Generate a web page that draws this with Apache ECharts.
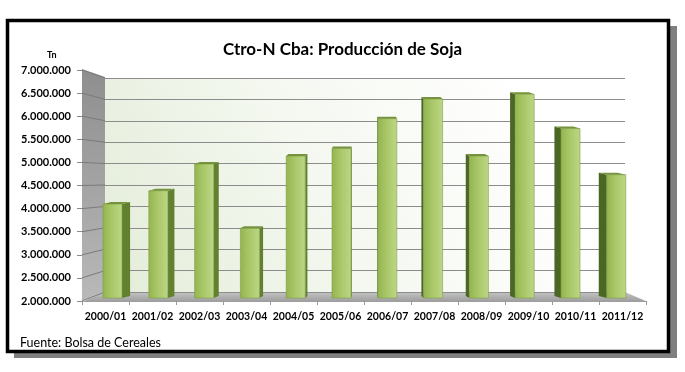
<!DOCTYPE html>
<html><head><meta charset="utf-8">
<script src="https://cdn.jsdelivr.net/npm/echarts@6/dist/echarts.min.js"></script>
<style>html,body{margin:0;padding:0;background:#fff}#c{width:685px;height:372px}</style>
</head><body><div id="c"></div>
<script>
// ---- data ----
var categories = ['2000/01','2001/02','2002/03','2003/04','2004/05','2005/06','2006/07','2007/08','2008/09','2009/10','2010/11','2011/12'];
var produccion = [4110000, 4410000, 5010000, 3570000, 5190000, 5360000, 6030000, 6470000, 5190000, 6580000, 5810000, 4770000];
var yTicks = [2000000, 2500000, 3000000, 3500000, 4000000, 4500000, 5000000, 5500000, 6000000, 6500000, 7000000];
var titleText = 'Ctro-N Cba: Producción de Soja';
var unitText = 'Tn';
var sourceText = 'Fuente: Bolsa de Cereales';

// ---- layout ----
var Y_MIN = 2000000, Y_MAX = 7000000, Y_INT = 500000;
var FRONT = {left: 82, top: 70, width: 564, height: 231};
var BARS = {left: 89.6, top: 75.5, width: 549.6, height: 222.5};
var BACK = {left: 105, top: 78, width: 520, height: 214};
var VANISH_X = 365;
var FONT = 'Lato, "Liberation Sans", sans-serif';

function fmt(v){ return String(v).replace(/\B(?=(\d{3})+(?!\d))/g, '.'); }

var chart = echarts.init(document.getElementById('c'), null, {renderer: 'canvas'});

var frontGreen = new echarts.graphic.LinearGradient(0, 0, 1, 0, [
  {offset: 0, color: '#93b450'}, {offset: 0.45, color: '#a9c767'}, {offset: 1, color: '#bcd787'}]);

var option = {
  animation: false,
  backgroundColor: '#ffffff',
  title: [
    {text: titleText, left: 'center', top: 36, textStyle: {fontFamily: FONT, fontWeight: 'bold', fontSize: 17, color: '#000'}},
    {text: unitText, left: 42, top: 46, textStyle: {fontFamily: FONT, fontWeight: 'bold', fontSize: 9, color: '#000'}},
    {text: sourceText, left: 15, top: 331, textStyle: {fontFamily: FONT, fontWeight: 'normal', fontSize: 12.5, color: '#000'}}
  ],
  graphic: [
    {type: 'rect', z: -20, shape: {x: 14, y: 26, width: 663, height: 332}, style: {fill: '#7f7f7f'}},
    {type: 'rect', z: -19, shape: {x: 7.5, y: 20.5, width: 661, height: 331}, style: {fill: '#ffffff', stroke: '#000000', lineWidth: 3.5}},
    {type: 'polygon', z: -18, shape: {points: [[82, 69], [105, 77], [105, 292], [82, 301]]},
      style: {fill: new echarts.graphic.LinearGradient(0, 0, 0, 1, [{offset: 0, color: '#8e8e8e'}, {offset: 1, color: '#b9b9b9'}])}},
    {type: 'rect', z: -18, shape: {x: 105, y: 78, width: 520, height: 214},
      style: {fill: new echarts.graphic.LinearGradient(0, 1, 0.8, 0, [{offset: 0, color: '#e3ecd8'}, {offset: 0.5, color: '#f4f8f0'}, {offset: 1, color: '#ffffff'}])}},
    {type: 'polygon', z: -17, shape: {points: [[82, 302], [105, 292], [625, 292], [648, 302]]},
      style: {fill: new echarts.graphic.LinearGradient(0, 0, 0, 1, [{offset: 0, color: '#c4c4c4'}, {offset: 1, color: '#9c9c9c'}])}}
  ],
  grid: [
    {left: FRONT.left, top: FRONT.top, width: FRONT.width, height: FRONT.height},
    {left: BARS.left, top: BARS.top, width: BARS.width, height: BARS.height},
    {left: BACK.left, top: BACK.top, width: BACK.width, height: BACK.height}
  ],
  xAxis: [
    {gridIndex: 0, type: 'category', data: categories, boundaryGap: true,
      axisLine: {show: false}, axisTick: {show: true, length: 4, lineStyle: {color: '#9a9a9a'}},
      axisLabel: {interval: 0, margin: 10, fontFamily: FONT, fontWeight: 'bold', fontSize: 10.5, color: '#000'}},
    {gridIndex: 1, type: 'category', data: categories, show: false},
    {gridIndex: 2, type: 'value', min: 0, max: 1, show: false}
  ],
  yAxis: [
    {gridIndex: 0, type: 'value', min: Y_MIN, max: Y_MAX, interval: Y_INT,
      axisLine: {show: false}, splitLine: {show: false},
      axisTick: {show: true, length: 5, lineStyle: {color: '#8a8a8a'}},
      axisLabel: {margin: 11, formatter: fmt, fontFamily: FONT, fontWeight: 'bold', fontSize: 11, color: '#000'}},
    {gridIndex: 1, type: 'value', min: Y_MIN, max: Y_MAX, show: false},
    {gridIndex: 2, type: 'value', min: Y_MIN, max: Y_MAX, interval: Y_INT,
      axisLine: {show: false}, axisTick: {show: false}, axisLabel: {show: false},
      splitLine: {show: true, lineStyle: {color: '#8c8c8c', width: 1}}}
  ],
  series: [
    { // side-wall gridlines, from the front edge to the back wall
      type: 'custom', xAxisIndex: 0, yAxisIndex: 0, z: 1, silent: true,
      data: yTicks.map(function (v) { return [0, v]; }),
      renderItem: function (params, api) {
        var v = api.value(1);
        var f = api.coord([0, v]);
        var by = BACK.top + (Y_MAX - v) / (Y_MAX - Y_MIN) * BACK.height;
        return {type: 'line', shape: {x1: params.coordSys.x, y1: f[1], x2: BACK.left, y2: by},
          style: {stroke: '#7a7a7a', lineWidth: 1}};
      }
    },
    { // 3D-looking columns
      type: 'custom', xAxisIndex: 1, yAxisIndex: 1, z: 3,
      data: produccion.map(function (v, i) { return [i, v]; }),
      renderItem: function (params, api) {
        var i = api.value(0), v = api.value(1);
        var t = api.coord([i, v]);
        var b = api.coord([i, Y_MIN]);
        var cx = t[0], w = 19;
        var x0 = cx - w / 2, x1 = cx + w / 2;
        var d = (VANISH_X - cx) * 0.032;
        var edge = d >= 0 ? x1 : x0;
        var up = 2;
        return {type: 'group', children: [
          {type: 'polygon', shape: {points: [[edge, t[1]], [edge + d, t[1] - up], [edge + d, b[1] - up], [edge, b[1]]]},
            style: {fill: d >= 0 ? '#61812f' : '#4b6724'}},
          {type: 'rect', shape: {x: x0, y: t[1], width: w, height: b[1] - t[1]},
            style: {fill: frontGreen, stroke: '#7f9d45', lineWidth: 0.6}},
          {type: 'polygon', shape: {points: [[x0, t[1]], [x1, t[1]], [x1 + d, t[1] - up], [x0 + d, t[1] - up]]},
            style: {fill: '#74933c'}}
        ]};
      }
    }
  ]
};
chart.setOption(option);
</script></body></html>
